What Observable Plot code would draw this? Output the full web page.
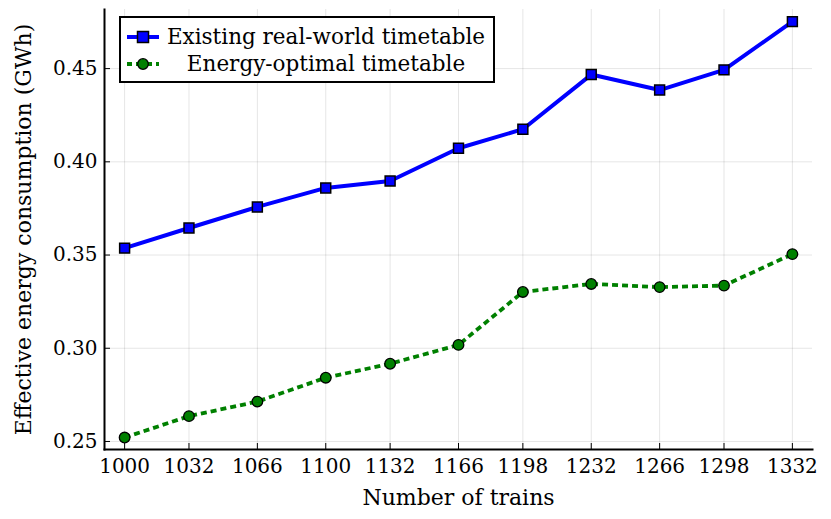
<!DOCTYPE html>
<html><head><meta charset="utf-8">
<script src="https://cdn.jsdelivr.net/npm/d3@7"></script>
<script src="https://cdn.jsdelivr.net/npm/@observablehq/plot@0.6"></script>
<style>
body{margin:0;background:#fff;}
#wrap{position:relative;width:831px;height:519px;}
#legend{position:absolute;left:119px;top:16px;width:372px;height:63px;border:2px solid #000;background:#fff;font-family:"DejaVu Serif";font-size:21.5px;color:#000;}
#legend .row{position:absolute;left:0;width:100%;height:28px;display:flex;align-items:center;}
#legend .row svg{flex:none;margin-left:6px;}
#legend .row span{flex:1;text-align:center;white-space:nowrap;line-height:28px;}
</style></head><body><div id="wrap"></div>
<script>
const trains = [1000,1032,1066,1100,1132,1166,1198,1232,1266,1298,1332];
const existing = [0.3537,0.3645,0.3758,0.3860,0.3897,0.4073,0.4175,0.4468,0.4385,0.4493,0.4752];
const optimal = [0.2521,0.2636,0.2714,0.2842,0.2917,0.3018,0.3302,0.3345,0.3328,0.3336,0.3505];
const yTicks = [0.25,0.30,0.35,0.40,0.45];
const xDomain = [990,1342];
const yDomain = [0.2457,0.4817];
const seriesNames = ["Existing real-world timetable","Energy-optimal timetable"];
const colors = ["#0000ff","#008000"];

const rowsA = trains.map((t,i)=>({x:t,y:existing[i]}));
const rowsB = trains.map((t,i)=>({x:t,y:optimal[i]}));

const chart = Plot.plot({
  width:831, height:519,
  marginLeft:104, marginRight:19, marginTop:9, marginBottom:70,
  style:{fontFamily:"'DejaVu Serif'", fontSize:"20px", background:"#fff", color:"#000"},
  x:{domain:xDomain},
  y:{domain:yDomain},
  marks:[
    Plot.gridX(trains,{stroke:"#000", strokeOpacity:0.1, strokeWidth:1}),
    Plot.gridY(yTicks,{stroke:"#000", strokeOpacity:0.1, strokeWidth:1}),
    Plot.axisX({ticks:trains, tickFormat:d=>String(d), tickSize:-6, tickPadding:15, strokeWidth:1, label:null}),
    Plot.axisX({ticks:[], label:"Number of trains", labelAnchor:"center", labelArrow:"none", labelOffset:55, fontSize:22}),
    Plot.axisY({ticks:yTicks, tickFormat:d3.format(".2f"), tickSize:-6, tickPadding:13, strokeWidth:1, label:null}),
    Plot.axisY({ticks:[], label:"Effective energy consumption (GWh)", labelAnchor:"center", labelArrow:"none", labelOffset:89, fontSize:22}),
    Plot.frame({anchor:"left", stroke:"#000", strokeWidth:2}),
    Plot.frame({anchor:"bottom", stroke:"#000", strokeWidth:2}),
    Plot.line(rowsA,{x:"x", y:"y", stroke:colors[0], strokeWidth:4}),
    Plot.line(rowsB,{x:"x", y:"y", stroke:colors[1], strokeWidth:3.8, strokeDasharray:"6,4", strokeLinecap:"butt"}),
    Plot.dot(rowsA,{x:"x", y:"y", symbol:"square", r:5.6, fill:colors[0], stroke:"#000", strokeWidth:1.5}),
    Plot.dot(rowsB,{x:"x", y:"y", symbol:"circle", r:5.3, fill:colors[1], stroke:"#000", strokeWidth:1.3})
  ]
});
const wrap = document.getElementById("wrap");
wrap.appendChild(chart);

const legend = document.createElement("div");
legend.id = "legend";
const sw = [
  `<svg width="32" height="14"><line x1="0" y1="7" x2="32" y2="7" stroke="${colors[0]}" stroke-width="4"/><rect x="10.5" y="1.5" width="11" height="11" fill="${colors[0]}" stroke="#000" stroke-width="1.5"/></svg>`,
  `<svg width="32" height="14"><line x1="0" y1="7" x2="32" y2="7" stroke="${colors[1]}" stroke-width="3.8" stroke-dasharray="6,4" stroke-dashoffset="1"/><circle cx="16" cy="7" r="5.3" fill="${colors[1]}" stroke="#000" stroke-width="1.3"/></svg>`
];
seriesNames.forEach((n,i)=>{
  const r = document.createElement("div");
  r.className = "row";
  r.style.top = (i===0 ? 5 : 32) + "px";
  r.innerHTML = sw[i] + `<span>${n}</span>`;
  legend.appendChild(r);
});
wrap.appendChild(legend);
</script>
</body></html>
